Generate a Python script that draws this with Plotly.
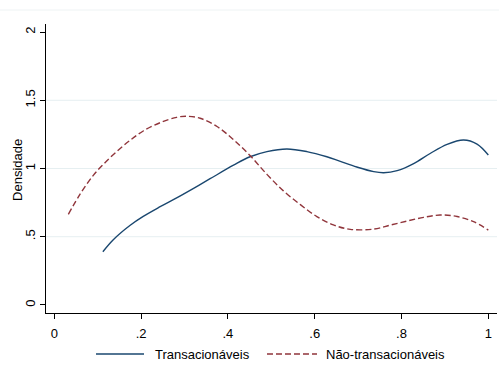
import plotly.graph_objects as go

# Kernel density estimates (x = share, y = density)
trans_x = [0.112, 0.136, 0.175, 0.205, 0.244, 0.282, 0.321, 0.359, 0.413,
           0.451, 0.490, 0.536, 0.582, 0.628, 0.659, 0.697, 0.736, 0.759, 0.790,
           0.828, 0.866, 0.905, 0.943, 0.974, 1.0]
trans_y = [0.390, 0.478, 0.584, 0.649, 0.720, 0.785, 0.855, 0.925, 1.024,
           1.086, 1.124, 1.143, 1.124, 1.086, 1.052, 1.011, 0.977, 0.969, 0.984,
           1.036, 1.110, 1.177, 1.209, 1.179, 1.099]

nontrans_x = [0.0325, 0.0595, 0.090, 0.113, 0.144, 0.175, 0.205, 0.244, 0.282, 0.305,
              0.336, 0.375, 0.413, 0.451, 0.490, 0.528, 0.567, 0.605, 0.643, 0.682,
              0.736, 0.774, 0.813, 0.851, 0.889, 0.928, 0.966, 1.0]
nontrans_y = [0.664, 0.812, 0.950, 1.030, 1.125, 1.207, 1.275, 1.336, 1.375, 1.383,
              1.368, 1.308, 1.211, 1.095, 0.957, 0.836, 0.735, 0.648, 0.587, 0.554,
              0.556, 0.585, 0.615, 0.642, 0.659, 0.648, 0.610, 0.549]

x_ticks = [0, 0.2, 0.4, 0.6, 0.8, 1]
x_labels = ["0", ".2", ".4", ".6", ".8", "1"]
y_ticks = [0, 0.5, 1, 1.5, 2]
y_labels = ["0", ".5", "1", "1.5", "2"]
grid_vals = [0.5, 1, 1.5]

series = [
    ("Transacionáveis", trans_x, trans_y, "#1a476f", "solid"),
    ("Não-transacionáveis", nontrans_x, nontrans_y, "#90353b", "6px,3px"),
]

FONT = "Liberation Sans, Arial, sans-serif"
FS = 13

fig = go.Figure()
for name, xs, ys, color, dash in series:
    fig.add_trace(go.Scatter(
        x=xs, y=ys, mode="lines", name=name, showlegend=False,
        line=dict(color=color, width=1.4, shape="spline", smoothing=1.0, dash=dash),
    ))

# interior horizontal grid lines
for g in grid_vals:
    fig.add_shape(type="line", xref="paper", yref="y", x0=0, x1=1, y0=g, y1=g,
                  line=dict(color="#E6EFF1", width=1), layer="below")

# faint rule near the top of the canvas
fig.add_shape(type="line", xref="paper", yref="paper", x0=-0.2, x1=1.1,
              y0=1.0484, y1=1.0484, line=dict(color="#EEF3F4", width=1))

# legend below the plot: line sample + label for each series
legend_y = -0.1419
legend_items = [(0.1109, 0.2173, 0.2373), (0.49, 0.6009, 0.6164)]
for (name, _, _, color, dash), (s0, s1, tx) in zip(series, legend_items):
    fig.add_shape(type="line", xref="paper", yref="paper", x0=s0, x1=s1,
                  y0=legend_y, y1=legend_y,
                  line=dict(color=color, width=1.4, dash=dash))
    fig.add_annotation(text=name, xref="paper", yref="paper", x=tx, y=legend_y,
                       xanchor="left", yanchor="middle", showarrow=False,
                       font=dict(size=FS, family=FONT, color="black"))

# y-axis title
fig.add_annotation(text="Densidade", xref="paper", yref="paper", x=0, y=0.495,
                   xshift=-28, xanchor="center", yanchor="middle", textangle=-90,
                   showarrow=False, font=dict(size=FS, family=FONT, color="black"))

fig.update_layout(
    width=499, height=376,
    margin=dict(l=46, r=2, t=24, b=63),
    paper_bgcolor="white", plot_bgcolor="white",
    font=dict(family=FONT, size=FS, color="black"),
    showlegend=False,
    xaxis=dict(
        range=[-0.019, 1.02], tickvals=x_ticks, ticktext=x_labels,
        showline=True, linecolor="black", linewidth=1,
        ticks="outside", ticklen=5, tickcolor="black", tickwidth=1,
        showgrid=False, zeroline=False, tickfont=dict(size=FS),
        ticklabelstandoff=3,
    ),
    yaxis=dict(
        range=[-0.059, 2.059], tickvals=y_ticks, ticktext=y_labels,
        tickangle=-90,
        showline=True, linecolor="black", linewidth=1,
        ticks="outside", ticklen=5, tickcolor="black", tickwidth=1,
        showgrid=False, zeroline=False, tickfont=dict(size=FS),
    ),
)

fig.write_html("out.html")
